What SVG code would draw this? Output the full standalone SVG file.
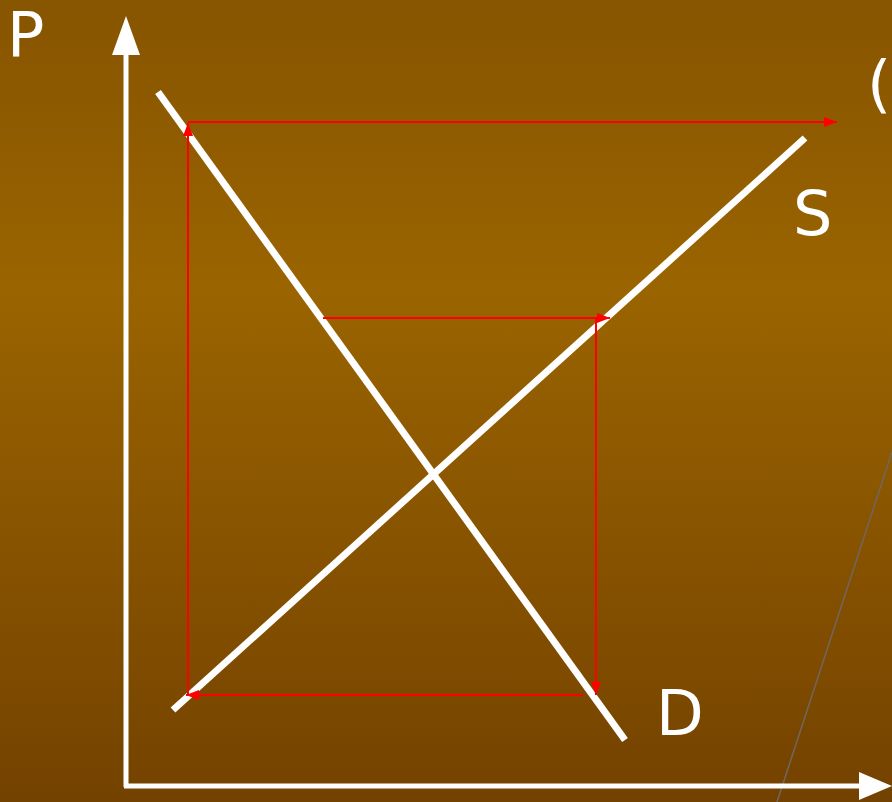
<svg xmlns="http://www.w3.org/2000/svg" width="892" height="802" viewBox="0 0 892 802">
<defs>
<linearGradient id="bg" x1="0" y1="0" x2="0" y2="1">
<stop offset="0" stop-color="#875400"/>
<stop offset="0.36" stop-color="#9a6400"/>
<stop offset="1" stop-color="#744200"/>
</linearGradient>
<marker id="ra" viewBox="0 0 13 10" refX="13" refY="5" markerWidth="13" markerHeight="10" markerUnits="userSpaceOnUse" orient="auto">
<path d="M0,0 L13,5 L0,10 Z" fill="#ff0000"/>
</marker>
<style>
.lbl{font-family:"DejaVu Sans",sans-serif;font-size:62px;fill:#ffffff}
.red{stroke:#ff0000;stroke-width:2;fill:none}
.axis{stroke:#ffffff;stroke-width:5;fill:none}
.curve{stroke:#ffffff;stroke-width:7;fill:none}
</style>
</defs>
<rect x="0" y="0" width="892" height="802" fill="url(#bg)"/>
<line x1="892" y1="452" x2="777" y2="802" stroke="#70675f" stroke-width="1.5"/>
<g id="axes">
<line class="axis" x1="126" y1="787" x2="126" y2="52"/>
<polygon points="126,16 112,55 140,55" fill="#ffffff"/>
<line class="axis" x1="124" y1="786" x2="862" y2="786"/>
<polygon points="892,786 859,772 859,800" fill="#ffffff"/>
</g>
<g id="demand"><line class="curve" x1="158" y1="92" x2="625" y2="740"/></g>
<g id="supply"><line class="curve" x1="173" y1="710" x2="805" y2="138"/></g>
<g id="connectors">
<line class="red" x1="188" y1="122" x2="837" y2="122" marker-end="url(#ra)"/>
<line class="red" x1="188" y1="695" x2="188" y2="123" marker-end="url(#ra)"/>
<line class="red" x1="323" y1="318" x2="610" y2="318" marker-end="url(#ra)"/>
<line class="red" x1="596" y1="318" x2="596" y2="695" marker-end="url(#ra)"/>
<line class="red" x1="583" y1="695" x2="186" y2="695" marker-end="url(#ra)"/>
</g>
<g id="labels">
<text class="lbl" x="7" y="56">P</text>
<text class="lbl" x="793" y="235">S</text>
<text class="lbl" x="656" y="735">D</text>
<text class="lbl" x="867" y="105">(</text>
</g>
</svg>
